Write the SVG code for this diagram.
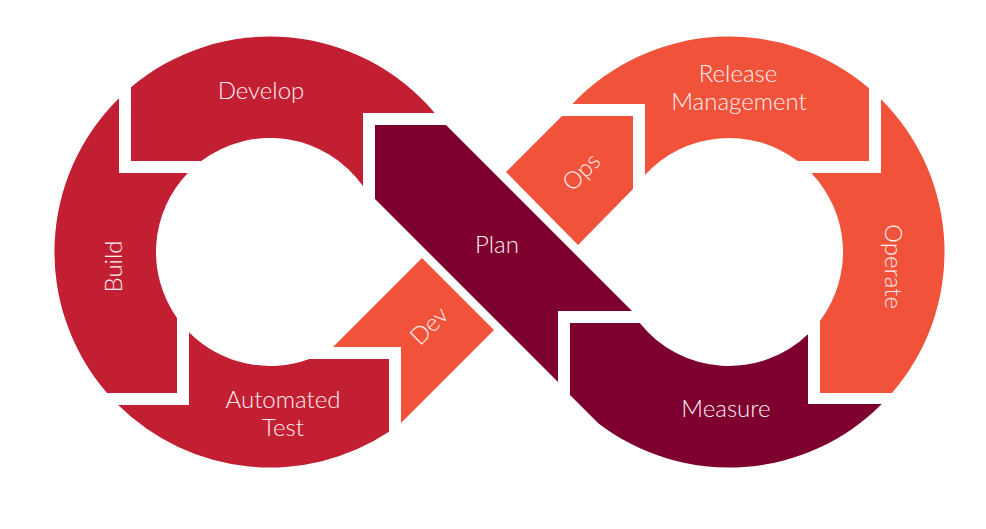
<svg xmlns="http://www.w3.org/2000/svg" width="986" height="529" viewBox="0 0 986 529">
<style>
.red{fill:#C31F33}
.orange{fill:#F0523A}
.maroon{fill:#7D002F}
text{font-family:Lato,"Open Sans","Liberation Sans",sans-serif;font-size:24px;font-weight:300;fill:#FDF0F2;text-anchor:middle}
</style>
<rect width="986" height="529" fill="#FFFFFF"/>
<g id="develop">
<path class="red" d="M131,87.3 L131,161 L201.3,161 A114,114 0 0 1 363,186.1 L363,113 L434.7,113 A215.5,215.5 0 0 0 131,87.3 Z"/>
<text x="261" y="99">Develop</text>
</g>
<g id="build">
<path class="red" d="M119,98.2 L119,173 L187.8,173 A114,114 0 0 0 177,317.9 L177,393 L107,393 A215.5,215.5 0 0 1 119,98.2 Z"/>
<text transform="translate(122,266.5) rotate(-90)">Build</text>
</g>
<g id="automated-test">
<path class="red" d="M118.2,405 L189,405 L189,332.2 A114,114 0 0 0 309.3,359 L389,359 L389,431.7 A215.5,215.5 0 0 1 118.2,405 Z"/>
<text x="283" y="408">Automated</text>
<text x="283" y="436">Test</text>
</g>
<g id="dev">
<path class="orange" d="M333,347 L401,347 L401,423 L494,330 L422,258 Z"/>
<text transform="translate(429,325.5) rotate(-45)" y="8.6">Dev</text>
</g>
<g id="plan">
<path class="maroon" d="M375,125 L446,125 L632,311 L558,311 L558,382 L375,199 Z"/>
<text x="497" y="253">Plan</text>
</g>
<g id="ops">
<path class="orange" d="M562,116 L633,116 L633,189 L578,245 L506,172 Z"/>
<text transform="translate(581,171.5) rotate(-45)" y="8.6">Ops</text>
</g>
<g id="release-management">
<path class="orange" d="M572.4,104 L645,104 L645,174.9 A114,114 0 0 1 797.7,161 L869,161 L869,88.2 A215.5,215.5 0 0 0 572.4,104 Z"/>
<text x="738" y="82">Release</text>
<text x="739" y="110">Management</text>
</g>
<g id="operate">
<path class="orange" d="M881,99.2 L881,173 L811.2,173 A114,114 0 0 1 820,320.7 L820,393 L892,393 A215.5,215.5 0 0 0 881,99.2 Z"/>
<text transform="translate(885,266.5) rotate(90)">Operate</text>
</g>
<g id="measure">
<path class="maroon" d="M570,323 L639.8,323 A114,114 0 0 0 808,334.2 L808,404 L881.8,404 A215.5,215.5 0 0 1 598.5,423.5 L570,395 Z"/>
<text x="726" y="417">Measure</text>
</g>
<g id="connectors"/>
</svg>
